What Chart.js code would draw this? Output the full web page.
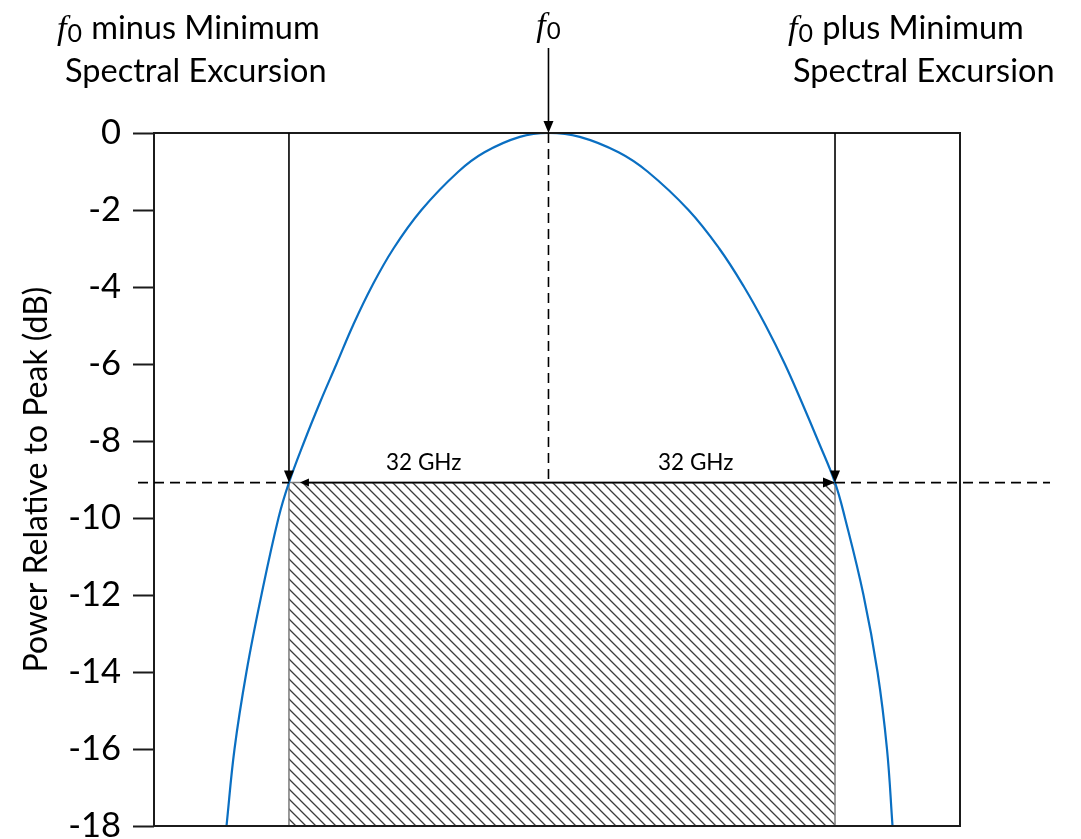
<!DOCTYPE html>
<html>
<head>
<meta charset="utf-8">
<script src="https://cdn.jsdelivr.net/npm/chart.js@4"></script>
<style>
  html, body { margin: 0; padding: 0; background: #ffffff; }
  #wrap { width: 1081px; height: 839px; position: relative; }
</style>
</head>
<body>
<div id="wrap"><canvas id="spectrum"></canvas></div>
<script>
// Power spectrum of the carrier, frequency offset from f0 in GHz
const curveOffsetGHz = [-37.79, -36.85, -35.45, -33.69, -31.69, -30.46, -28.64, -26.82, -24.88, -22.95, -20.77, -18.19, -14.91, -10.56, -7.51, -3.36, 0,
                         3.67, 8.22, 11.62, 16.43, 20.04, 22.96, 25.49, 27.74, 29.74, 31.65, 33.63, 34.8, 36.97, 38.62, 39.73, 40.38];
const curvePowerDb   = [-18, -16, -14, -12, -10, -9.08, -8, -7, -6, -5, -4, -3, -2, -1, -0.5, -0.1, 0,
                        -0.1, -0.5, -1, -2, -3, -4, -5, -6, -7, -8, -9.08, -10, -12, -14, -16, -18];

// Minimum spectral excursion markers
const excursionOffsetGHz = [-30.46, 33.63];
const excursionLevelDb = -9.08;
const excursionLabels = ['32 GHz', '32 GHz'];

// Axis
const powerTicksDb = [0, -2, -4, -6, -8, -10, -12, -14, -16, -18];
const offsetRangeGHz = [-46.3, 48.3];
const yAxisTitle = 'Power Relative to Peak (dB)';
const leftCaption = ['minus Minimum', 'Spectral Excursion'];
const rightCaption = ['plus Minimum', 'Spectral Excursion'];

const FONT = 'Lato, "Open Sans", sans-serif';
const SERIF_IT = '"Liberation Serif", "DejaVu Serif", serif';
Chart.defaults.font.family = FONT;
Chart.defaults.color = '#000';

// diagonal hatch for the excursion band
function makeHatch() {
  const s = 10;
  const c = document.createElement('canvas');
  c.width = s; c.height = s;
  const g = c.getContext('2d');
  g.strokeStyle = '#3c3c3c';
  g.lineWidth = 1.3;
  g.beginPath();
  g.moveTo(-1, -1); g.lineTo(s + 1, s + 1);
  g.moveTo(-1, s - 1); g.lineTo(1, s + 1);
  g.moveTo(s - 1, -1); g.lineTo(s + 1, 1);
  g.stroke();
  return g.createPattern(c, 'repeat');
}

const curveData = curveOffsetGHz.map((x, i) => ({ x, y: curvePowerDb[i] }));
const [exL, exR] = excursionOffsetGHz;
const floorDb = powerTicksDb[powerTicksDb.length - 1];
const bandData = [
  { x: exL, y: floorDb },
  { x: exL, y: excursionLevelDb },
  { x: exR, y: excursionLevelDb },
  { x: exR, y: floorDb }
];

function arrowHead(ctx, x, y, dir, len, half) {
  ctx.beginPath();
  if (dir === 'down') { ctx.moveTo(x, y); ctx.lineTo(x - half, y - len); ctx.lineTo(x + half, y - len); }
  if (dir === 'right') { ctx.moveTo(x, y); ctx.lineTo(x - len, y - half); ctx.lineTo(x - len, y + half); }
  if (dir === 'left') { ctx.moveTo(x, y); ctx.lineTo(x + len, y - half); ctx.lineTo(x + len, y + half); }
  ctx.closePath();
  ctx.fill();
}

// "f0": italic f with a lowered zero; returns its width
function drawF0(ctx, x, baseline, size) {
  ctx.textAlign = 'left';
  ctx.textBaseline = 'alphabetic';
  ctx.font = 'italic ' + size + 'px ' + SERIF_IT;
  ctx.fillText('f', x, baseline);
  const w1 = ctx.measureText('f').width + 1;
  ctx.font = Math.round(size * 0.72) + 'px ' + FONT;
  ctx.fillText('0', x + w1, baseline + 3);
  return w1 + ctx.measureText('0').width;
}

function caption(ctx, x1, x2, baseline1, lineGap, lines, size) {
  const fw = drawF0(ctx, x1, baseline1, size + 2);
  ctx.font = size + 'px ' + FONT;
  ctx.textAlign = 'left';
  ctx.fillText(lines[0], x1 + fw + size * 0.28, baseline1);
  ctx.fillText(lines[1], x2, baseline1 + lineGap);
}

const annotations = {
  id: 'annotations',
  afterDraw(chart) {
    const { ctx, chartArea: a, scales: { x: xs, y: ys } } = chart;
    const px = v => xs.getPixelForValue(v);
    const py = v => ys.getPixelForValue(v);
    const x0 = px(0), xl = px(exL), xr = px(exR);
    const yTop = py(0), yLvl = py(excursionLevelDb);

    ctx.save();
    // plot frame
    ctx.strokeStyle = '#1b1b1b';
    ctx.lineWidth = 2;
    ctx.strokeRect(a.left, a.top, a.right - a.left, a.bottom - a.top);

    ctx.strokeStyle = '#000';
    ctx.fillStyle = '#000';
    ctx.lineWidth = 1.6;

    // dashed level line outside the band, dashed centre line
    ctx.setLineDash([10, 6]);
    ctx.beginPath();
    ctx.moveTo(a.left - 16, yLvl); ctx.lineTo(xl, yLvl);
    ctx.moveTo(xr, yLvl); ctx.lineTo(a.right + 90, yLvl);
    ctx.moveTo(x0, yTop); ctx.lineTo(x0, yLvl);
    ctx.stroke();
    ctx.setLineDash([]);

    // excursion arrows
    ctx.beginPath();
    ctx.moveTo(xl, yTop); ctx.lineTo(xl, yLvl - 10);
    ctx.moveTo(xr, yTop); ctx.lineTo(xr, yLvl - 10);
    ctx.moveTo(x0, yLvl); ctx.lineTo(xl + 18, yLvl);
    ctx.moveTo(x0, yLvl); ctx.lineTo(xr - 10, yLvl);
    ctx.moveTo(x0, 48); ctx.lineTo(x0, yTop - 10);
    ctx.stroke();
    arrowHead(ctx, xl, yLvl, 'down', 12, 5);
    arrowHead(ctx, xr, yLvl, 'down', 12, 5);
    arrowHead(ctx, xr, yLvl, 'right', 12, 5);
    arrowHead(ctx, xl + 11, yLvl, 'left', 9, 4);
    arrowHead(ctx, x0, yTop, 'down', 12, 5);

    // 32 GHz labels
    ctx.font = '22.5px ' + FONT;
    ctx.textAlign = 'center';
    ctx.textBaseline = 'alphabetic';
    ctx.fillText(excursionLabels[0], (xl + x0) / 2 + 5, yLvl - 13);
    ctx.fillText(excursionLabels[1], (xr + x0) / 2 + 4, yLvl - 13);

    // f0 marker label
    ctx.font = 'italic 34px ' + SERIF_IT;
    let fw = ctx.measureText('f').width + 1;
    ctx.font = Math.round(34 * 0.72) + 'px ' + FONT;
    fw += ctx.measureText('0').width;
    drawF0(ctx, x0 - fw / 2, 36, 34);

    // captions above the plot
    caption(ctx, 57, 65, 39, 43, leftCaption, 32.5);
    caption(ctx, 788, 793, 39, 43, rightCaption, 32.5);
    ctx.restore();
  }
};

new Chart(document.getElementById('spectrum'), {
  type: 'line',
  data: {
    datasets: [
      {
        data: curveData,
        borderColor: '#0a6fc2',
        borderWidth: 2.2,
        pointRadius: 0,
        tension: 0.4,
        fill: false
      },
      {
        data: bandData,
        borderColor: '#7a7a7a',
        borderWidth: 1.5,
        pointRadius: 0,
        tension: 0,
        backgroundColor: makeHatch(),
        fill: 'start'
      }
    ]
  },
  options: {
    responsive: true,
    maintainAspectRatio: false,
    animation: false,
    parsing: false,
    layout: { padding: { left: 0, top: 133, right: 121, bottom: 13 } },
    plugins: { legend: { display: false }, tooltip: { enabled: false } },
    scales: {
      x: {
        type: 'linear',
        display: false,
        min: offsetRangeGHz[0],
        max: offsetRangeGHz[1]
      },
      y: {
        type: 'linear',
        min: -18,
        max: 0,
        afterFit(scale) {
          scale.width = 154;
          scale.paddingTop = 0;
          scale.paddingBottom = 0;
        },
        afterBuildTicks(scale) { scale.ticks = powerTicksDb.map(v => ({ value: v })); },
        ticks: {
          font: { size: 34.5 },
          color: '#000',
          padding: 12
        },
        grid: {
          drawOnChartArea: false,
          drawTicks: true,
          tickLength: 21,
          tickWidth: 2,
          tickColor: '#1b1b1b'
        },
        border: { display: false },
        title: {
          display: true,
          text: yAxisTitle,
          font: { size: 32 },
          color: '#000',
          padding: { top: 17, bottom: 0 }
        }
      }
    }
  },
  plugins: [annotations]
});
</script>
</body>
</html>
